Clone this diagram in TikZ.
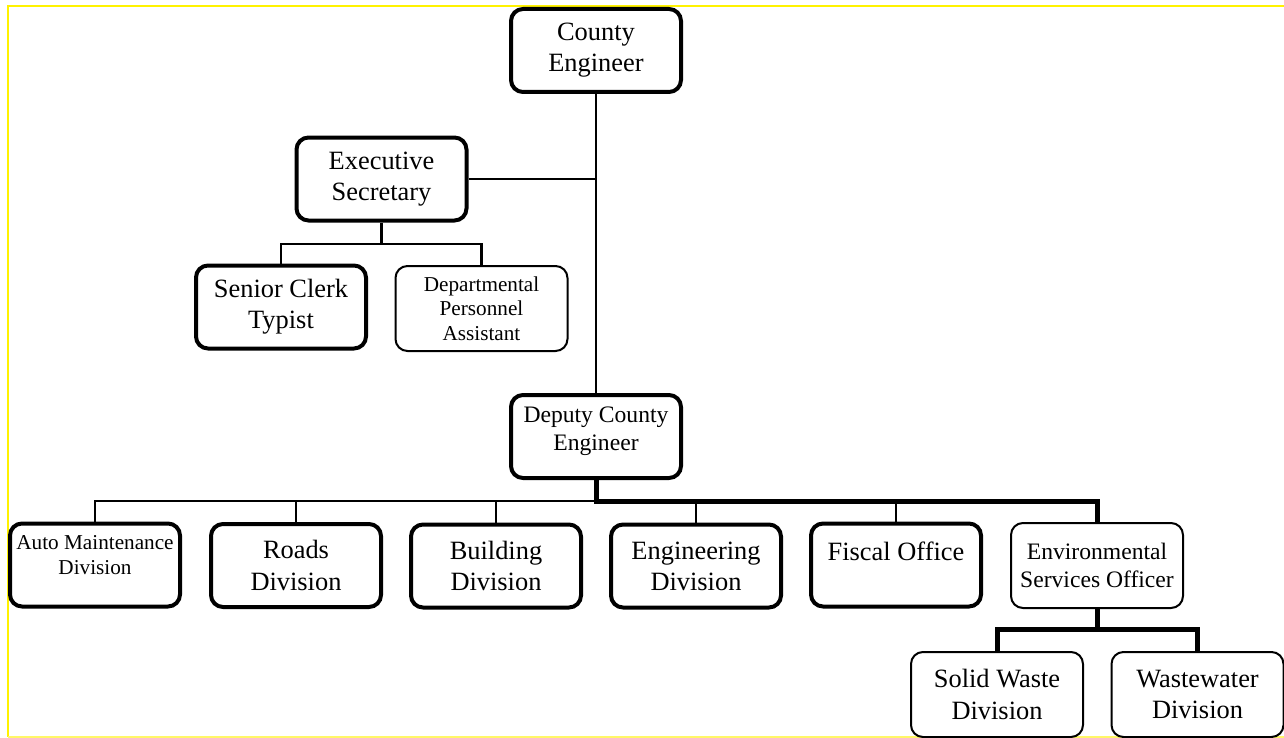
\documentclass[tikz,border=0pt]{standalone}
\usepackage{fontspec}
\setmainfont{Liberation Serif}
\begin{document}
\begin{tikzpicture}[x=0.5pt,y=-0.5pt,
  box/.style={draw, rounded corners=6pt, inner sep=0pt, align=center, fill=white},
  thickbox/.style={box, line width=2pt, minimum width=85pt, minimum height=41.5pt},
  thinbox/.style={box, line width=1pt, minimum width=86pt, minimum height=42.5pt},
  big/.style={font=\fontsize{13.2}{15.6}\selectfont},
  mid/.style={font=\fontsize{11.8}{13.8}\selectfont},
  small/.style={font=\fontsize{10.6}{12.3}\selectfont},
  conn/.style={line width=1.1pt},
  heavy/.style={line width=2.5pt}]
\useasboundingbox (0,0) rectangle (1284,738);
% frame
\draw[yellow, line width=1pt] (8,737) -- (8,6.5) -- (1284,6.5);
\draw[yellow!60, line width=0.6pt] (8,737) -- (1284,737);

% nodes
\node[thickbox, big] (ce) at (596,50.5) {County\\Engineer};
\node[thickbox, big] (es) at (381.5,179) {Executive\\Secretary};
\node[thickbox, big] (sct) at (281,307) {Senior Clerk\\Typist};
\node[thinbox, small] (dpa) at (481.5,308.5) {Departmental\\Personnel\\Assistant};
\node[thickbox, mid] (dce) at (596,436.5) {Deputy County\\Engineer\\[-6pt]\mbox{}};
\node[thickbox, small] (amd) at (95,565) {Auto Maintenance\\Division\\[-2.3pt]\mbox{}};
\node[thickbox, big] (rd) at (296,565.5) {Roads\\Division};
\node[thickbox, big] (bd) at (496,566) {Building\\Division};
\node[thickbox, big] (eng) at (696,566) {Engineering\\Division};
\node[thickbox, big] (fo) at (896,565) {Fiscal Office\\[-2pt]\mbox{}};
\node[thinbox, mid] (env) at (1097,565.5) {Environmental\\Services Officer};
\node[thinbox, big] (sw) at (997,694.5) {Solid Waste\\Division};
\node[thinbox, big] (ww) at (1197.5,694.5) {Wastewater\\Division};

% coordinates
\coordinate (esb) at (381.5,244);
\coordinate (db) at (596,501);
\coordinate (eb) at (1097,629);

% connectors
\draw[conn] (ce.south) -- (dce.north);
\draw[conn] (es.east) -- (es.east -| ce.south);
\draw[conn] (es.south) -- (esb);
\draw[conn] (sct.north) |- (esb) -| (dpa.north);
\draw[conn] (amd.north) |- (db);
\draw[conn] (rd.north) -- (rd.north |- db);
\draw[conn] (bd.north) -- (bd.north |- db);
\draw[conn] (eng.north) -- (eng.north |- db);
\draw[conn] (fo.north) -- (fo.north |- db);
\draw[heavy] (dce.south) -- (db) -| (env.north);
\draw[heavy] (env.south) -- (eb);
\draw[heavy] (sw.north) |- (eb) -| (ww.north);
\end{tikzpicture}
\end{document}
